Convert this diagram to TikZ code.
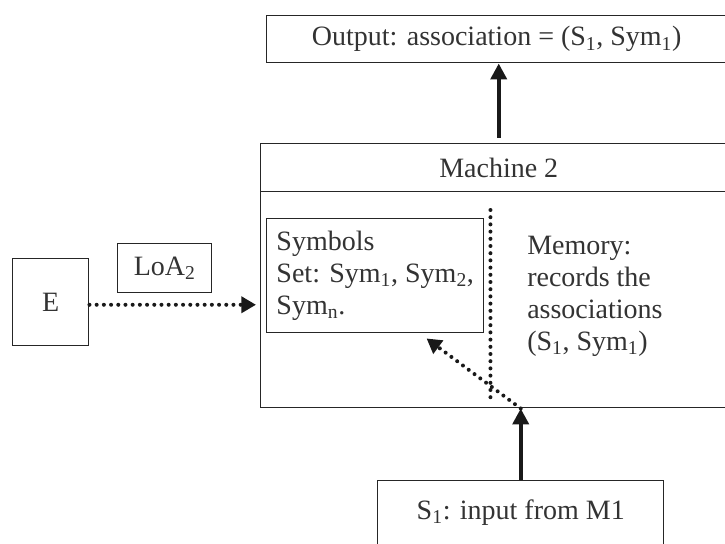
\documentclass[tikz,border=0pt]{standalone}
\usepackage{fontspec}
\setmainfont{Liberation Serif}
\usetikzlibrary{calc,arrows.meta}

\begin{document}
\begin{tikzpicture}[x=0.75pt,y=-0.75pt,
	font=\fontsize{21}{24}\selectfont,
	box/.style={draw=black!85, line width=1.1pt, anchor=north west, inner sep=0pt, text=black!80},
	solidarrow/.style={draw=black!90, line width=3pt, -{Triangle[length=12pt,width=12pt]}},
	dotline/.style={draw=black!90, line width=3pt, line cap=round, dash pattern=on 0pt off 5.4pt},
	dotarrow/.style={dotline, -{Triangle[length=11pt,width=12pt]}}]
				\useasboundingbox (0,0) rectangle (725,543);
				\clip (0,0) rectangle (725,543);
				
				% boxes
				\node[box, minimum width=345pt, minimum height=35.25pt] (out) at (266,15) {Output: association = (S\textsubscript{1}, Sym\textsubscript{1})};
				\node[box, minimum width=357pt, minimum height=36pt] (head) at (260,143) {Machine 2};
				\node[box, minimum width=357pt, minimum height=162pt] (machine) at (260,191) {};
				\node[box, align=left, minimum width=162.75pt, minimum height=85.5pt, inner xsep=5pt] (symbols) at (266,218) {Symbols\\Set: Sym\textsubscript{1}, Sym\textsubscript{2},\\Sym\textsubscript{n}.};
				\node[anchor=north west, inner sep=0pt, align=left, text=black!80] (memory) at (527,236) {Memory:\\records the\\associations\\(S\textsubscript{1}, Sym\textsubscript{1})};
				\node[box, minimum width=57pt, minimum height=65.25pt] (E) at (12,258) {E};
				\node[box, minimum width=70.5pt, minimum height=36.75pt] (loa) at (117,243) {LoA\textsubscript{2}};
				\node[box, minimum width=214.5pt, minimum height=48pt] (input) at (377,480) {S\textsubscript{1}: input from M1};
				
				\coordinate (hit) at (input.north |- machine.south);
				\coordinate (symtip) at ($(symbols.south)!0.47!(symbols.south east)$);
				
				% arrows
				\draw[solidarrow, shorten <=4pt] (head.north) -- (head.north |- out.south);
				\draw[solidarrow] (input.north) -- (hit);
				\draw[dotarrow] (hit) -- ([yshift=-3.75pt]symtip);
				\draw[dotline] ($(symbols.north east)+(6,-8)$) -- ($(symbols.north east |- machine.south)+(6,-7)$);
				\draw[dotarrow, shorten >=3pt] ([yshift=-1.9pt]E.east) -- ([yshift=-1.9pt]E.east -| machine.west);
\end{tikzpicture}
\end{document}
